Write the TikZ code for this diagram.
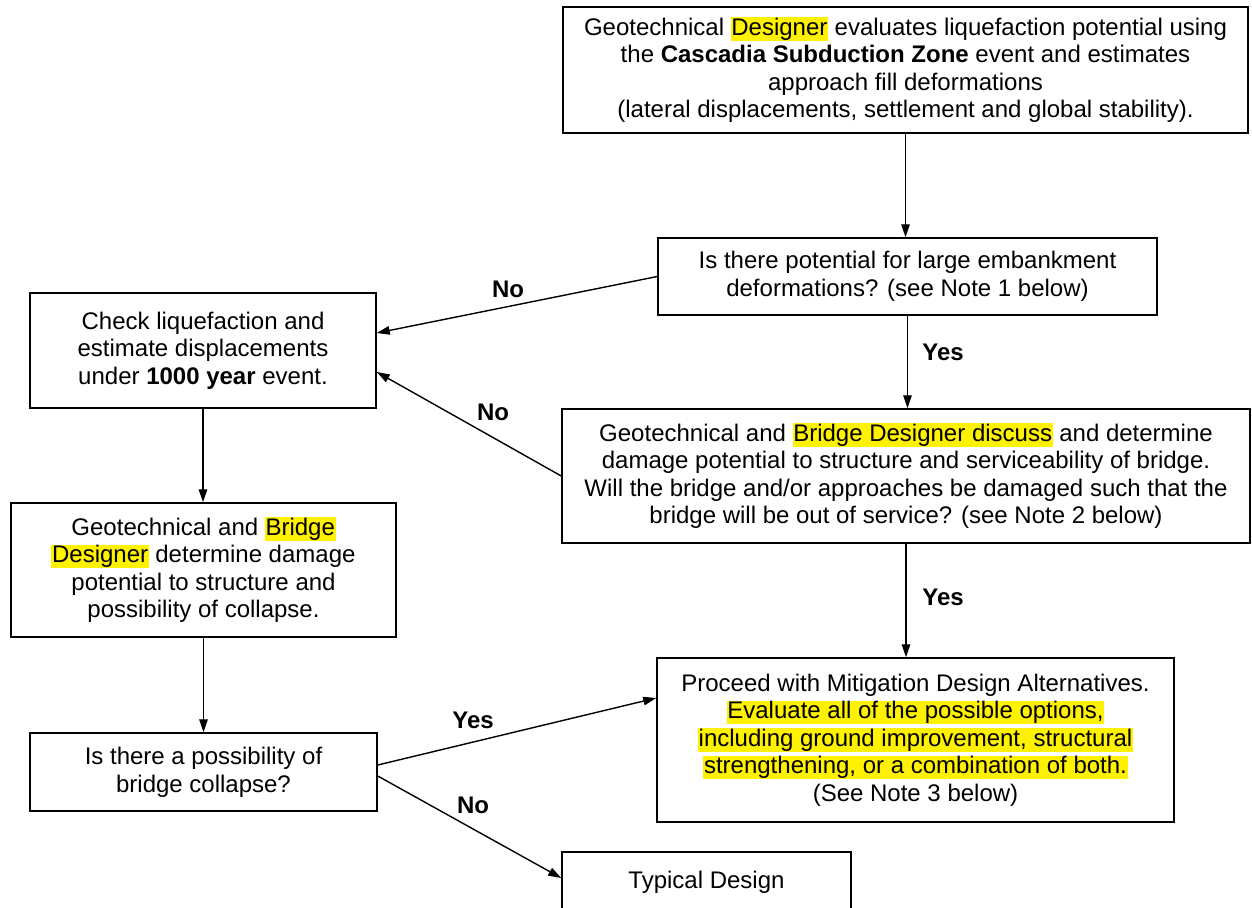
\documentclass[tikz,border=0pt]{standalone}
\usepackage{fontspec}
\setmainfont{Liberation Sans}
\usetikzlibrary{arrows.meta}
\newcommand\hlt[1]{{\setlength{\fboxsep}{0.6pt}\colorbox{yellow}{\vphantom{Apgy}#1}}}
\begin{document}
\begin{tikzpicture}[x=1pt,y=-1pt,
  box/.style={draw, line width=1.5pt, align=center, inner sep=0pt, font=\fontsize{24}{27.6}\selectfont},
  conn/.style={line width=1.4pt, -{Triangle[length=13pt,width=8.5pt]}},
  lbl/.style={font=\fontsize{24}{27.6}\selectfont\bfseries, inner sep=0pt}]
\useasboundingbox (0,0) rectangle (1252,907);
\fill[white] (0,0) rectangle (1252,907);
\clip (0,0) rectangle (1252,907);

\node[box, minimum width=685pt, minimum height=126pt] (top) at (905.5,70)
  {Geotechnical \hlt{Designer} evaluates liquefaction potential using\\
   the \textbf{Cascadia Subduction Zone} event and estimates\\
   approach fill deformations\\
   (lateral displacements, settlement and global stability).};

\node[box, minimum width=499pt, minimum height=77pt] (q1) at (907.5,276.5)
  {Is there potential for large embankment\\ deformations? (see Note 1 below)};

\node[box, minimum width=346pt, minimum height=115pt] (check) at (203,350.5)
  {Check liquefaction and\\ estimate displacements\\ under \textbf{1000 year} event.};

\node[box, minimum width=688pt, minimum height=134pt] (discuss) at (906,476)
  {Geotechnical and \hlt{Bridge Designer discuss} and determine\\
   damage potential to structure and serviceability of bridge.\\
   Will the bridge and/or approaches be damaged such that the\\
   bridge will be out of service? (see Note 2 below)};

\node[box, minimum width=385pt, minimum height=134pt] (geo) at (203.5,570)
  {Geotechnical and \hlt{Bridge}\\ \hlt{Designer} determine damage\\ potential to structure and\\ possibility of collapse.};

\node[box, minimum width=517pt, minimum height=164pt] (mit) at (915.5,740)
  {Proceed with Mitigation Design Alternatives.\\
   \hlt{Evaluate all of the possible options,}\\
   \hlt{including ground improvement, structural}\\
   \hlt{strengthening, or a combination of both.}\\
   (See Note 3 below)};

\node[box, minimum width=347pt, minimum height=78pt] (coll) at (203.5,772)
  {Is there a possibility of\\ bridge collapse?};

\node[box, minimum width=289pt, minimum height=60pt] (typ) at (706.5,882)
  {Typical Design};

\draw[conn] (top.south) -- (top.south |- q1.north);
\draw[conn] (q1.west) -- ([yshift=17.5pt]check.east);
\draw[conn] (q1.south) -- (q1.south |- discuss.north);
\draw[conn] (discuss.west) -- ([yshift=-21.5pt]check.east);
\draw[conn] (check.south) -- (check.south |- geo.north);
\draw[conn] (discuss.south) -- (discuss.south |- mit.north);
\draw[conn] (geo.south) -- (geo.south |- coll.north);
\draw[conn] ([yshift=7pt]coll.east) -- ([yshift=42pt]mit.west);
\draw[conn] ([yshift=-4pt]coll.east) -- ([yshift=4pt]typ.west);

\node[lbl] (no1) at (508,289) {No};
\node[lbl] (yes1) at (943,352) {Yes};
\node[lbl] (no2) at (493,412) {No};
\node[lbl] (yes2) at (943,597) {Yes};
\node[lbl] (yes3) at (473,720) {Yes};
\node[lbl] (no3) at (473,805) {No};
\end{tikzpicture}
\end{document}
